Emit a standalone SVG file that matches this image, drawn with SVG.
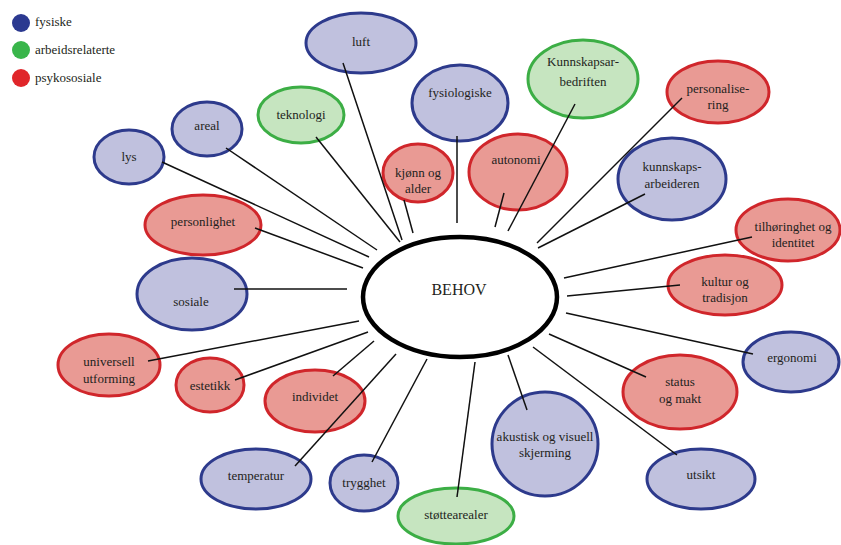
<svg xmlns="http://www.w3.org/2000/svg" width="841" height="545" viewBox="0 0 841 545">
<style>
text{font-family:'Liberation Serif','DejaVu Serif',serif;font-size:13px;fill:#231f20;text-anchor:middle}
.leg{text-anchor:start}
.b{fill:#c0c1de;stroke:#2d3a8c;stroke-width:3}
.r{fill:#e99a94;stroke:#d0262b;stroke-width:3}
.g{fill:#c6e5c0;stroke:#3cae45;stroke-width:3}
#connectors line{stroke:#111;stroke-width:1.5}
</style>
<rect width="841" height="545" fill="#fff"/>
<g font-family="Liberation Serif, DejaVu Serif, serif">
<g id="legend">
<circle cx="21" cy="23" r="9" fill="#2b3990"/>
<circle cx="21" cy="50" r="9" fill="#39b54a"/>
<circle cx="21" cy="78" r="9" fill="#e0262a"/>
<text class="leg" x="35" y="26">fysiske</text>
<text class="leg" x="35" y="54">arbeidsrelaterte</text>
<text class="leg" x="35" y="82">psykososiale</text>
</g>
<g id="behov">
<ellipse cx="460" cy="297" rx="97" ry="60" fill="#fff" stroke="#000" stroke-width="4.5"/>
<text x="459" y="295" style="font-size:16px">BEHOV</text>
</g>
<g id="luft"><ellipse class="b" cx="361" cy="43" rx="55" ry="30"/><text x="361" y="46">luft</text></g>
<g id="fysiologiske"><ellipse class="b" cx="460" cy="103" rx="48" ry="38"/><text x="460" y="97">fysiologiske</text></g>
<g id="teknologi"><ellipse class="g" cx="301" cy="115" rx="43" ry="28"/><text x="301" y="119">teknologi</text></g>
<g id="kjonn"><ellipse class="r" cx="418" cy="173" rx="35" ry="29"/><text x="418" y="177">kjønn og</text><text x="418" y="193">alder</text></g>
<g id="autonomi"><ellipse class="r" cx="518" cy="172" rx="49" ry="38"/><text x="516" y="164">autonomi</text></g>
<g id="kunnskapsbedriften"><ellipse class="g" cx="583" cy="79" rx="55" ry="39"/><text x="583" y="66">Kunnskapsar-</text><text x="583" y="86">bedriften</text></g>
<g id="personalisering"><ellipse class="r" cx="718" cy="92" rx="51" ry="31"/><text x="718" y="93">personalise-</text><text x="718" y="109">ring</text></g>
<g id="kunnskapsarbeideren"><ellipse class="b" cx="672" cy="179" rx="54" ry="41"/><text x="672" y="171">kunnskaps-</text><text x="672" y="188">arbeideren</text></g>
<g id="tilhoringhet"><ellipse class="r" cx="788" cy="230" rx="52" ry="31"/><text x="793" y="231">tilhøringhet og</text><text x="793" y="247">identitet</text></g>
<g id="kultur"><ellipse class="r" cx="725" cy="285" rx="57" ry="30"/><text x="725" y="286">kultur og</text><text x="725" y="302">tradisjon</text></g>
<g id="ergonomi"><ellipse class="b" cx="791" cy="362" rx="48" ry="30"/><text x="792" y="362">ergonomi</text></g>
<g id="status"><ellipse class="r" cx="680" cy="392" rx="57" ry="37"/><text x="680" y="386">status</text><text x="680" y="403">og makt</text></g>
<g id="utsikt"><ellipse class="b" cx="701" cy="479" rx="54" ry="30"/><text x="701" y="479">utsikt</text></g>
<g id="akustisk"><ellipse class="b" cx="545" cy="444" rx="53" ry="52"/><text x="545" y="441">akustisk og visuell</text><text x="545" y="457">skjerming</text></g>
<g id="stottearealer"><ellipse class="g" cx="456" cy="516" rx="58" ry="28"/><text x="456" y="519">støttearealer</text></g>
<g id="trygghet"><ellipse class="b" cx="364" cy="483" rx="34" ry="28"/><text x="364" y="487">trygghet</text></g>
<g id="temperatur"><ellipse class="b" cx="256" cy="479" rx="55" ry="30"/><text x="256" y="480">temperatur</text></g>
<g id="individet"><ellipse class="r" cx="315" cy="401" rx="50" ry="31"/><text x="315" y="401">individet</text></g>
<g id="estetikk"><ellipse class="r" cx="210" cy="385" rx="34" ry="27"/><text x="210" y="390">estetikk</text></g>
<g id="universell"><ellipse class="r" cx="109" cy="365" rx="51" ry="31"/><text x="109" y="366">universell</text><text x="109" y="383">utforming</text></g>
<g id="sosiale"><ellipse class="b" cx="192" cy="294" rx="55" ry="36"/><text x="191" y="306">sosiale</text></g>
<g id="personlighet"><ellipse class="r" cx="203" cy="225" rx="58" ry="30"/><text x="203" y="226">personlighet</text></g>
<g id="lys"><ellipse class="b" cx="129" cy="157" rx="35" ry="27"/><text x="129" y="161">lys</text></g>
<g id="areal"><ellipse class="b" cx="207" cy="129" rx="35" ry="27"/><text x="207" y="130">areal</text></g>
</g>
<g id="connectors">
<line x1="343" y1="63" x2="402" y2="240"/>
<line x1="316" y1="137" x2="400" y2="242"/>
<line x1="404" y1="200" x2="413" y2="233"/>
<line x1="457" y1="136" x2="457" y2="223"/>
<line x1="504" y1="193" x2="495" y2="227"/>
<line x1="575" y1="104" x2="508" y2="231"/>
<line x1="682" y1="98" x2="537" y2="243"/>
<line x1="645" y1="194" x2="538" y2="248"/>
<line x1="752" y1="237" x2="564" y2="278"/>
<line x1="680" y1="285" x2="567" y2="296"/>
<line x1="566" y1="313" x2="753" y2="354"/>
<line x1="549" y1="334" x2="646" y2="377"/>
<line x1="533" y1="347" x2="677" y2="455"/>
<line x1="508" y1="355" x2="527" y2="410"/>
<line x1="475" y1="362" x2="457" y2="497"/>
<line x1="427" y1="359" x2="372" y2="462"/>
<line x1="396" y1="354" x2="295" y2="466"/>
<line x1="374" y1="341" x2="333" y2="376"/>
<line x1="368" y1="332" x2="235" y2="380"/>
<line x1="359" y1="321" x2="148" y2="361"/>
<line x1="234" y1="289" x2="347" y2="289"/>
<line x1="255" y1="228" x2="363" y2="268"/>
<line x1="162" y1="162" x2="369" y2="257"/>
<line x1="226" y1="148" x2="377" y2="250"/>
</g>
</svg>
